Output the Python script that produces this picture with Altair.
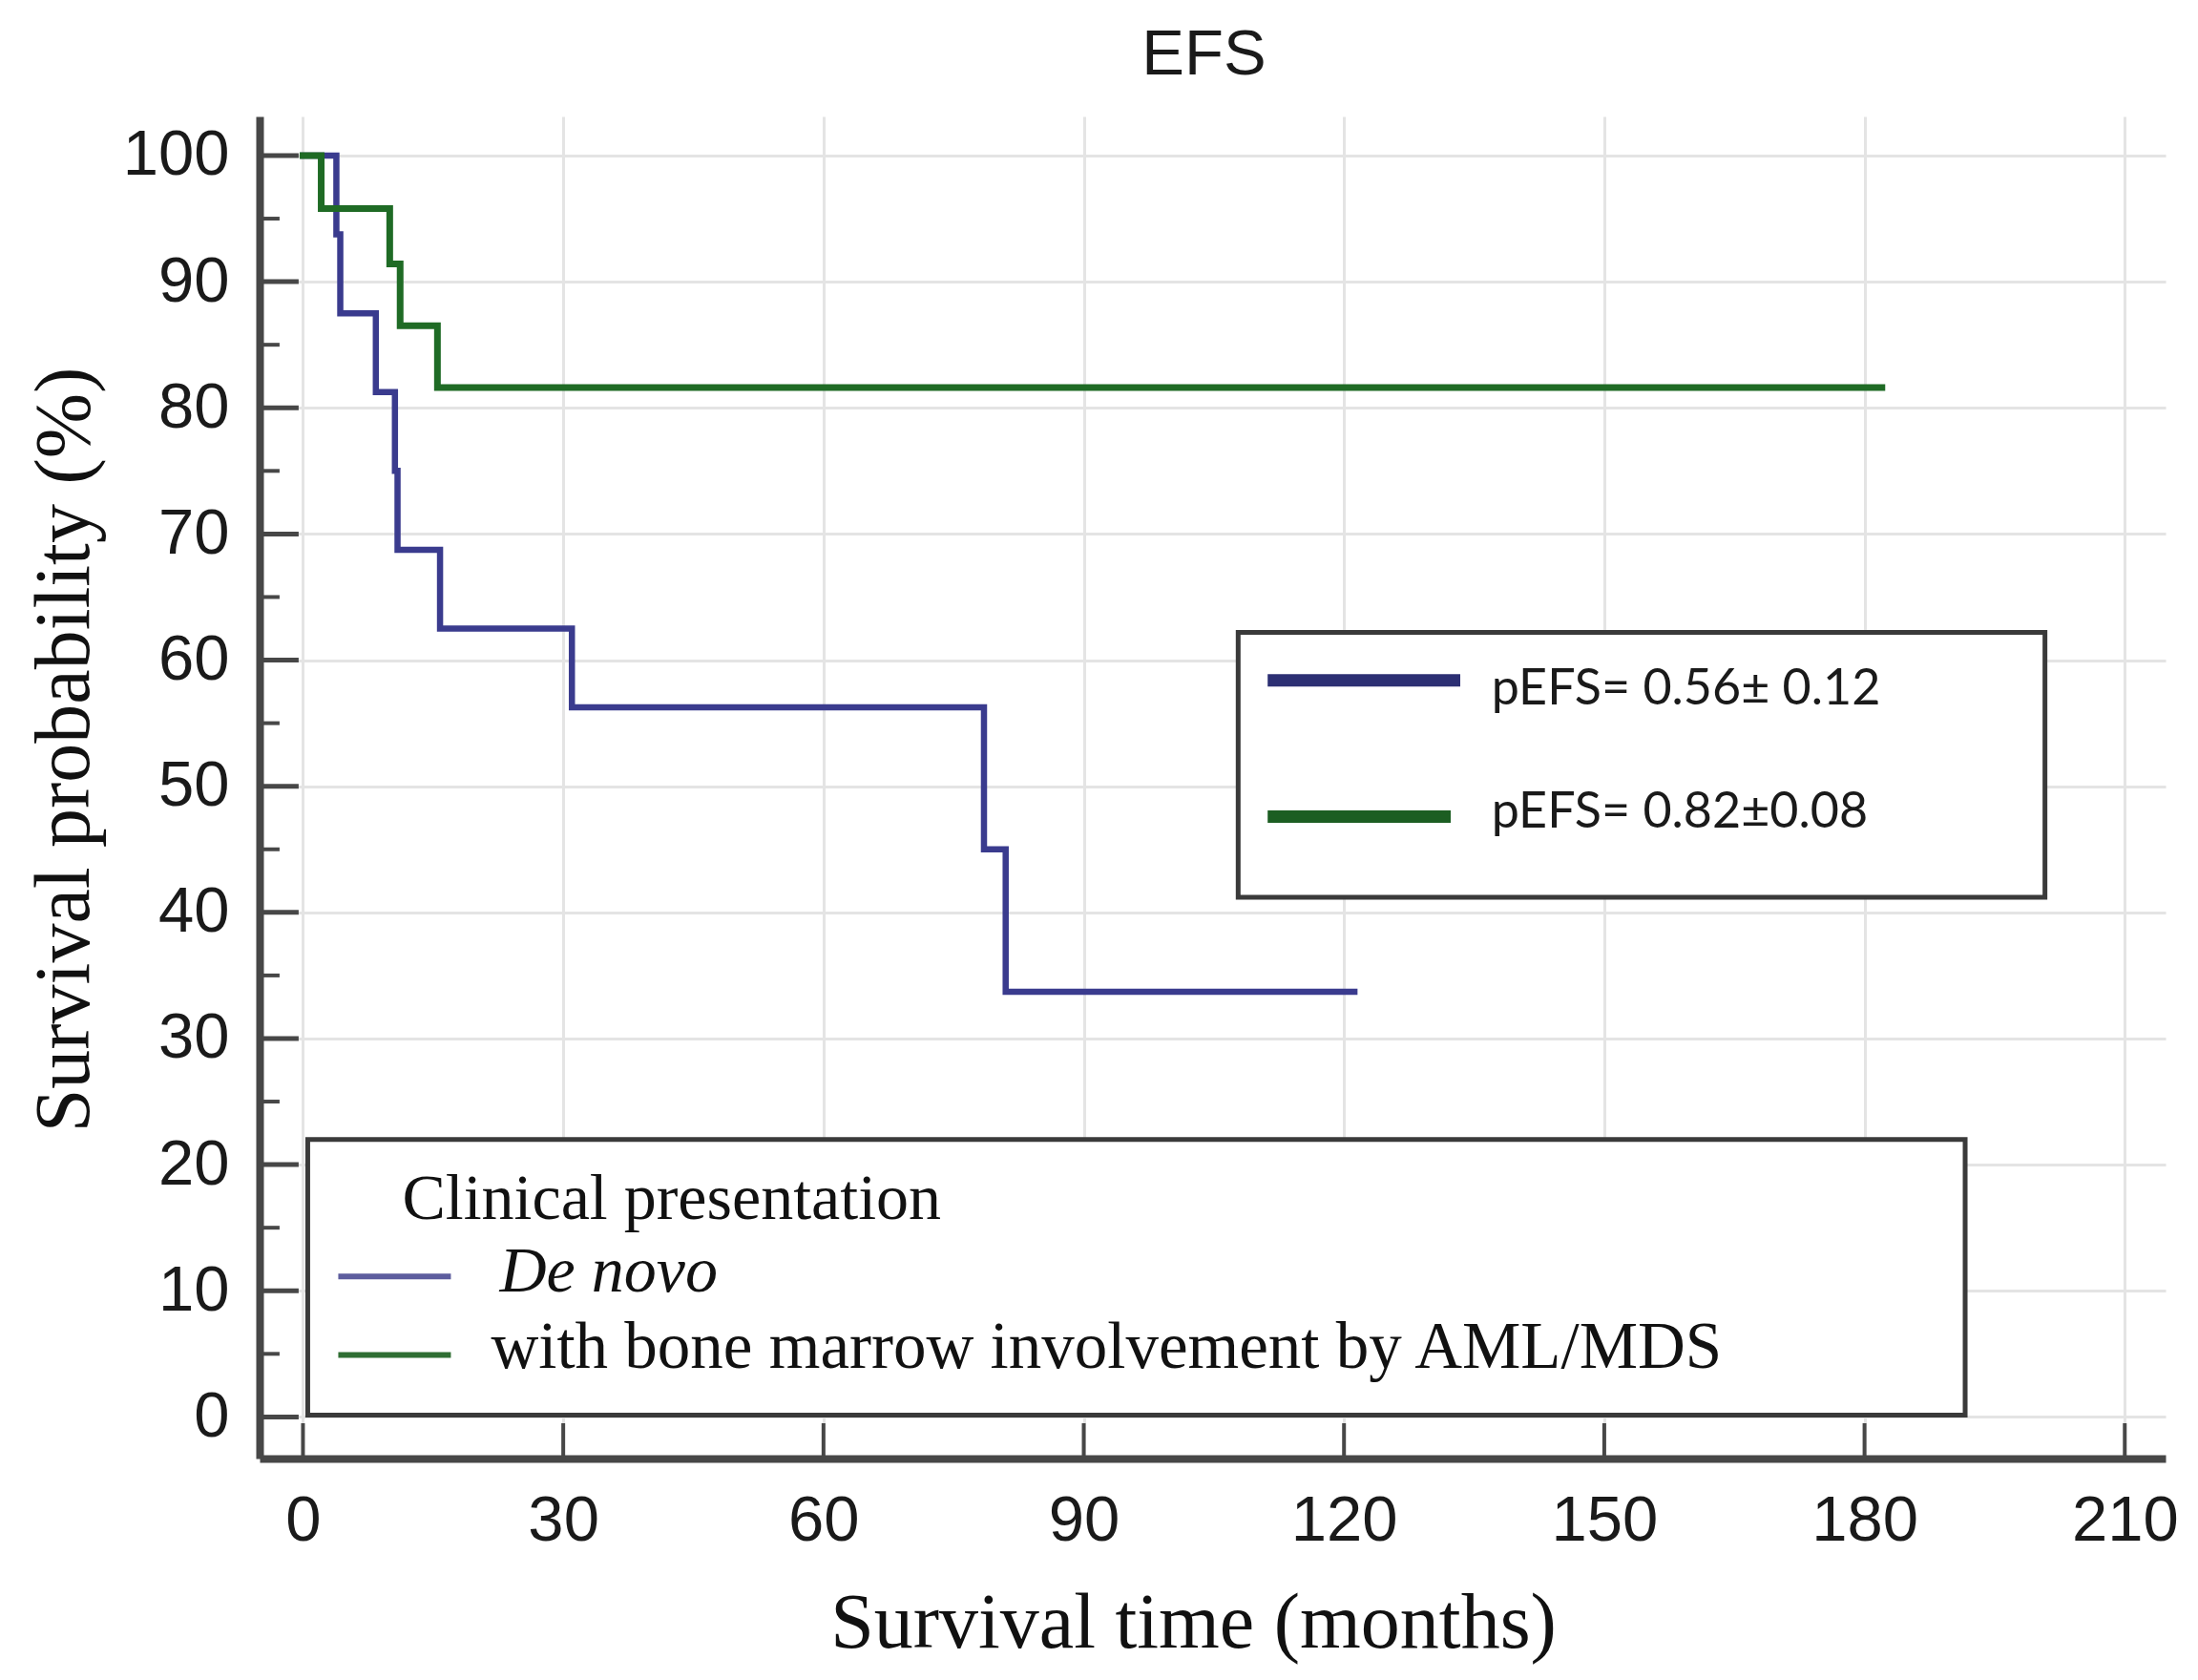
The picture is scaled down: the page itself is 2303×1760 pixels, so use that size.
import altair as alt
import pandas as pd

# ---- data ----
blue_time = [0, 3.85, 4.3, 8.4, 10.6, 10.9, 15.8, 31.0, 78.5, 81.0, 121.2]
blue_surv = [100, 93.75, 87.5, 81.25, 75.0, 68.75, 62.5, 56.25, 45.0, 33.7, 33.7]
green_time = [0, 2.1, 10.0, 11.2, 15.5, 182.0]
green_surv = [100, 95.8, 91.4, 86.5, 81.6, 81.6]

x_ticks = [0, 30, 60, 90, 120, 150, 180, 210]
y_ticks = [0, 10, 20, 30, 40, 50, 60, 70, 80, 90, 100]
y_minor = [5, 15, 25, 35, 45, 55, 65, 75, 85, 95]

stat_labels = ["pEFS= 0.56\u00b1 0.12", "pEFS= 0.82\u00b10.08"]
group_labels = ["De novo", "with bone marrow involvement by AML/MDS"]
legend_title = "Clinical presentation"

X_MIN, X_MAX = -5.0, 214.7
Y_MIN, Y_MAX = -3.3, 103.1

BLUE = "#3a3b8e"
GREEN = "#1f6b25"

xs = alt.Scale(domain=[X_MIN, X_MAX], nice=False, zero=False)
ys = alt.Scale(domain=[Y_MIN, Y_MAX], nice=False, zero=False)

x_axis = alt.Axis(
    values=x_ticks, grid=True, gridColor="#e4e4e4", gridWidth=3,
    domainColor="#474747", domainWidth=8, ticks=False, tickSize=0,
    labelFont="Liberation Sans", labelFontSize=67, labelColor="#1a1a1a",
    labelPadding=32, labelFlush=False, labelOverlap=False,
    title="Survival time (months)", titleFont="Liberation Serif",
    titleFontSize=82, titleFontWeight="normal", titleColor="#111111",
    titleBaseline="alphabetic", titleAlign="center", titleX=978, titleY=197,
)
y_axis = alt.Axis(
    values=y_ticks, grid=True, gridColor="#e4e4e4", gridWidth=3,
    domainColor="#474747", domainWidth=8, ticks=False, tickSize=0,
    labelFont="Liberation Sans", labelFontSize=67, labelColor="#1a1a1a",
    labelPadding=32, labelFlush=False, labelOverlap=False,
    title="Survival probability (%)", titleFont="Liberation Serif",
    titleFontSize=82, titleFontWeight="normal", titleColor="#111111",
    titleAngle=270, titleBaseline="alphabetic", titleAlign="center",
    titleX=-180, titleY=663,
)


def X(field):
    return alt.X(field, scale=xs, axis=x_axis)


def Y(field):
    return alt.Y(field, scale=ys, axis=y_axis)


km_blue = pd.DataFrame({"t": blue_time, "s": blue_surv})
km_green = pd.DataFrame({"t": green_time, "s": green_surv})

blue_line = alt.Chart(km_blue).mark_line(
    interpolate="step-after", color=BLUE, strokeWidth=6.5, strokeCap="square"
).encode(x=X("t:Q"), y=Y("s:Q"))
green_line = alt.Chart(km_green).mark_line(
    interpolate="step-after", color=GREEN, strokeWidth=7, strokeCap="square"
).encode(x=X("t:Q"), y=Y("s:Q"))

# legend boxes
boxes = pd.DataFrame({
    "x1": [107.8, 0.55], "x2": [200.8, 191.6],
    "y1": [41.2, 0.15], "y2": [62.2, 22.0],
})
box_layer = alt.Chart(boxes).mark_rect(
    fill="white", stroke="#3a3a3a", strokeWidth=5
).encode(x=X("x1:Q"), x2="x2:Q", y=Y("y1:Q"), y2="y2:Q")

# legend line keys
keys = pd.DataFrame({
    "x1": [111.2, 111.2, 4.07, 4.07],
    "x2": [133.4, 132.3, 17.05, 17.05],
    "y": [58.4, 47.6, 11.13, 4.92],
    "c": ["a", "b", "c", "d"],
})
key_colors = alt.Scale(domain=["a", "b", "c", "d"],
                       range=["#2c2f73", "#1c5e22", "#5d5d9e", "#2f6e33"])
thick_keys = alt.Chart(keys.iloc[:2]).mark_rule(strokeWidth=13).encode(
    x=X("x1:Q"), x2="x2:Q", y=Y("y:Q"),
    color=alt.Color("c:N", scale=key_colors, legend=None),
)
thin_keys = alt.Chart(keys.iloc[2:]).mark_rule(strokeWidth=6).encode(
    x=X("x1:Q"), x2="x2:Q", y=Y("y:Q"),
    color=alt.Color("c:N", scale=key_colors, legend=None),
)

stats = pd.DataFrame({"x": [137.0, 137.0], "y": [56.5, 46.7], "t": stat_labels})
stat_text = alt.Chart(stats).mark_text(
    align="left", baseline="alphabetic", font="Lato", fontSize=52, color="#1a1a1a"
).encode(x=X("x:Q"), y=Y("y:Q"), text="t:N")

ltitle = pd.DataFrame({"x": [11.44], "y": [15.67], "t": [legend_title]})
ltitle_text = alt.Chart(ltitle).mark_text(
    align="left", baseline="alphabetic", font="Liberation Serif", fontSize=68, color="#111111"
).encode(x=X("x:Q"), y=Y("y:Q"), text="t:N")
g1 = pd.DataFrame({"x": [22.66], "y": [9.92], "t": [group_labels[0]]})
g1_text = alt.Chart(g1).mark_text(
    align="left", baseline="alphabetic", font="Liberation Serif", fontSize=68,
    fontStyle="italic", color="#111111"
).encode(x=X("x:Q"), y=Y("y:Q"), text="t:N")
g2 = pd.DataFrame({"x": [21.67], "y": [3.86], "t": [group_labels[1]]})
g2_text = alt.Chart(g2).mark_text(
    align="left", baseline="alphabetic", font="Liberation Serif", fontSize=69, color="#111111"
).encode(x=X("x:Q"), y=Y("y:Q"), text="t:N")

# inward ticks
ymaj = pd.DataFrame({"v": y_ticks, "a": X_MIN, "b": -0.5})
ymin = pd.DataFrame({"v": y_minor, "a": X_MIN, "b": -2.7})
xmaj = pd.DataFrame({"v": x_ticks, "a": Y_MIN, "b": -0.5})
tick_y_major = alt.Chart(ymaj).mark_rule(color="#474747", strokeWidth=5).encode(
    y=Y("v:Q"), x=X("a:Q"), x2="b:Q")
tick_y_minor = alt.Chart(ymin).mark_rule(color="#474747", strokeWidth=4).encode(
    y=Y("v:Q"), x=X("a:Q"), x2="b:Q")
tick_x = alt.Chart(xmaj).mark_rule(color="#474747", strokeWidth=4).encode(
    x=X("v:Q"), y=Y("a:Q"), y2="b:Q")

chart = alt.layer(
    blue_line, green_line, box_layer, thick_keys, thin_keys,
    stat_text, ltitle_text, g1_text, g2_text,
    tick_y_major, tick_y_minor, tick_x,
).properties(
    width=1997, height=1406,
    title=alt.TitleParams("EFS", font="Liberation Sans", fontSize=67,
                          fontWeight="normal", color="#1a1a1a", anchor="middle",
                          offset=30, dx=-9),
    padding={"left": 264, "top": 114, "right": 26, "bottom": 224},
    autosize=alt.AutoSizeParams(type="none"),
    background="white",
).configure_view(strokeWidth=0, stroke="transparent")

chart.save("out.html", embed_options={"renderer": "svg", "actions": False})
